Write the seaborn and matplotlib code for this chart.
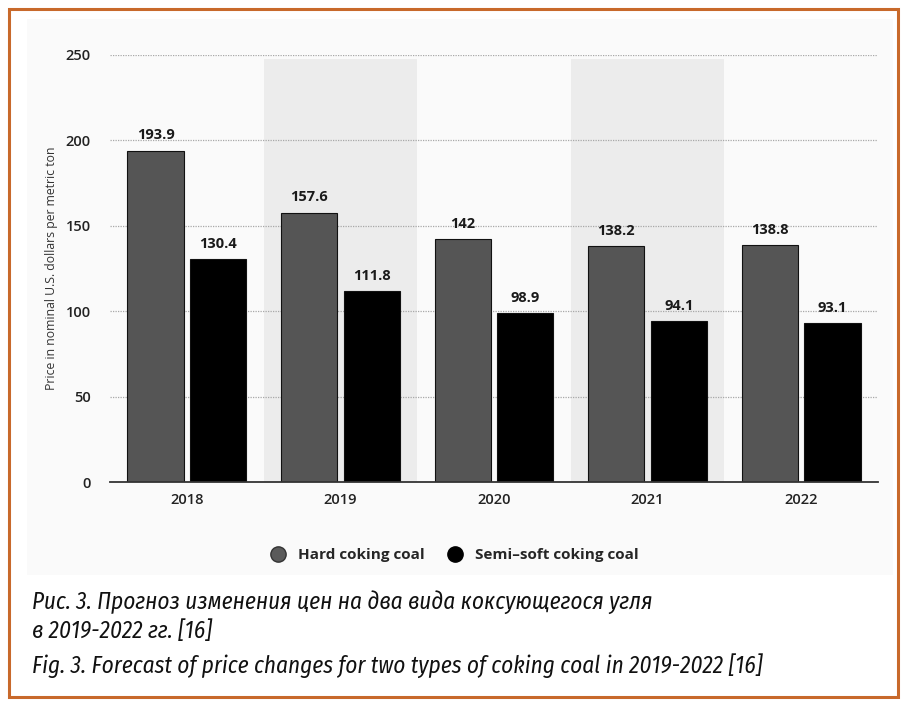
import matplotlib
matplotlib.use("Agg")
import matplotlib.pyplot as plt
from matplotlib.patches import Rectangle
from matplotlib.lines import Line2D
import seaborn as sns
import pandas as pd

years = ["2018", "2019", "2020", "2021", "2022"]
hard_coking = [193.9, 157.6, 142, 138.2, 138.8]
semi_soft = [130.4, 111.8, 98.9, 94.1, 93.1]
series_names = ["Hard coking coal", "Semi\u2013soft coking coal"]
value_labels_hard = ["193.9", "157.6", "142", "138.2", "138.8"]
value_labels_semi = ["130.4", "111.8", "98.9", "94.1", "93.1"]
y_ticks = [0, 50, 100, 150, 200, 250]
caption_ru = ["Рис. 3. Прогноз изменения цен на два вида коксующегося угля",
              "в 2019-2022 гг. [16]"]
caption_en = "Fig. 3. Forecast of price changes for two types of coking coal in 2019-2022 [16]"

df = pd.DataFrame({
    "year": years * 2,
    "price": hard_coking + semi_soft,
    "series": [series_names[0]] * len(years) + [series_names[1]] * len(years),
})

sns.set_theme(style="white")
plt.rcParams["font.family"] = ["Open Sans", "DejaVu Sans"]

fig = plt.figure(figsize=(9.02, 7.03), dpi=100)
fig.patch.set_facecolor("white")

# outer frame and chart panel
fig.add_artist(Rectangle((9 / 902, 1 - 697 / 703), 889 / 902, 688 / 703,
                         transform=fig.transFigure, fill=False,
                         edgecolor="#c8692b", linewidth=2.2))
fig.add_artist(Rectangle((27 / 902, 1 - 575 / 703), 866 / 902, 556 / 703,
                         transform=fig.transFigure, facecolor="#fafafa",
                         edgecolor="none", zorder=0))

ax = fig.add_axes([110 / 902, 1 - 482 / 703, 768 / 902, 427 / 703])
ax.set_facecolor("none")

palette = {series_names[0]: "#555555", series_names[1]: "#000000"}
sns.barplot(data=df, x="year", y="price", hue="series", palette=palette,
            width=0.814, gap=0.1, edgecolor="#111111", linewidth=0.8,
            saturation=1, legend=False, ax=ax, zorder=3)

# alternating shaded columns
for i in range(len(years)):
    if i % 2 == 1:
        ax.axvspan(i - 0.5, i + 0.5, ymin=0, ymax=0.99,
                   facecolor="#ececec", edgecolor="none", zorder=0)

ax.set_xlim(-0.5, len(years) - 0.5)
ax.set_ylim(0, 250)
ax.set_yticks(y_ticks)
for yv in y_ticks[1:]:
    ax.axhline(yv, color="#a8a8a8", linestyle=(0, (1, 1)), linewidth=0.9, zorder=1)

for c, labels in zip(ax.containers, [value_labels_hard, value_labels_semi]):
    ax.bar_label(c, labels=labels, padding=6, fontsize=10.5,
                 fontweight="bold", color="#1a1a1a")

for s in ["top", "right", "left"]:
    ax.spines[s].set_visible(False)
ax.spines["bottom"].set_color("#333333")
ax.spines["bottom"].set_linewidth(1.3)
ax.spines["bottom"].set_zorder(4)
ax.tick_params(axis="both", length=0, labelsize=10.5, labelcolor="#222222")
for lbl in ax.get_xticklabels() + ax.get_yticklabels():
    lbl.set_fontweight("semibold")
ax.tick_params(axis="x", pad=8)
ax.tick_params(axis="y", pad=14)
ax.set_xlabel("")
ax.set_ylabel("Price in nominal U.S. dollars per metric ton",
              fontsize=8.8, color="#333333", labelpad=5)

handles = [Line2D([0], [0], marker="o", linestyle="", markersize=11,
                  markerfacecolor="#5a5a5a", markeredgecolor="#333333"),
           Line2D([0], [0], marker="o", linestyle="", markersize=11,
                  markerfacecolor="#000000", markeredgecolor="#000000")]
fig.legend(handles, series_names, loc="center", bbox_to_anchor=(0.5, 1 - 555 / 703),
           ncol=2, frameon=False, handletextpad=0.3,
           columnspacing=1.0, prop={"family": ["Open Sans", "DejaVu Sans"],
                                    "weight": "bold", "size": 11})

cap_font = ["Fira Sans Condensed", "Fira Sans Extra Condensed", "DejaVu Sans"]
cap_kw = dict(fontsize=16.7, style="italic", family=cap_font, va="baseline",
              color="#111111")
fig.text(32 / 902, 1 - 609 / 703, caption_ru[0], **cap_kw)
fig.text(32 / 902, 1 - 638 / 703, caption_ru[1], **cap_kw)
fig.text(32 / 902, 1 - 673 / 703, caption_en, **cap_kw)

fig.savefig("out.png", dpi=100)
